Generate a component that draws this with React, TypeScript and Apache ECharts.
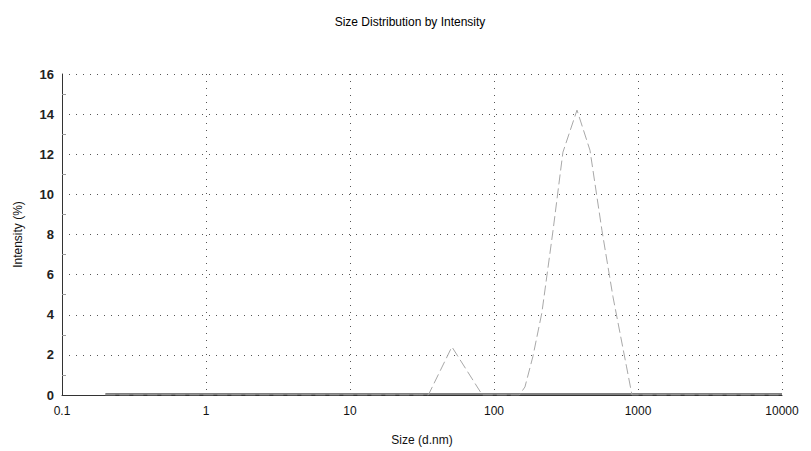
import React, { useEffect, useRef } from "react";
import * as echarts from "echarts";

const titleText = "Size Distribution by Intensity";
const xAxisName = "Size (d.nm)";
const yAxisName = "Intensity (%)";
const sizes = [0.2, 1, 10, 30, 35, 51, 83, 100, 150, 164, 186, 215, 257, 301, 377, 464, 562, 670, 833, 908, 1000, 10000];
const intensities = [0, 0, 0, 0, 0, 2.4, 0, 0, 0, 0.4, 1.9, 4.1, 8.2, 12.1, 14.2, 12.2, 8.2, 4.9, 1.4, 0, 0, 0];
const yTicks = [0, 2, 4, 6, 8, 10, 12, 14, 16];

export default function App() {
  const ref = useRef<HTMLDivElement>(null);
  useEffect(() => {
    if (!ref.current) return;
    const chart = echarts.init(ref.current, null, { renderer: "svg" });
    const font = "Liberation Sans, Arial, sans-serif";
    chart.setOption({
      animation: false,
      backgroundColor: "#ffffff",
      title: {
        text: titleText,
        left: 405,
        textAlign: "center",
        top: 11,
        textStyle: { fontFamily: font, fontSize: 12, fontWeight: 500, color: "#000" },
      },
      grid: { left: 62, right: 29, top: 74, bottom: 56 },
      xAxis: {
        type: "log",
        logBase: 10,
        min: 0.1,
        max: 10000,
        name: xAxisName,
        nameLocation: "middle",
        nameGap: 39,
        nameTextStyle: { fontFamily: font, fontSize: 12, color: "#111" },
        axisLine: { lineStyle: { color: "#333", width: 1 } },
        axisTick: { show: false },
        axisLabel: {
          fontFamily: font,
          fontSize: 12,
          color: "#111",
          margin: 10,
          formatter: (v: number) => (v < 1 ? "0.1" : String(Math.round(v))),
        },
        splitLine: { show: true, lineStyle: { type: [1, 6], color: "#555", width: 1 } },
      },
      yAxis: {
        type: "value",
        min: 0,
        max: 16,
        interval: 2,
        name: yAxisName,
        nameLocation: "middle",
        nameGap: 38,
        nameRotate: 90,
        nameTextStyle: { fontFamily: font, fontSize: 12, color: "#111" },
        axisLine: { show: true, lineStyle: { color: "#333", width: 1 } },
        axisTick: { show: false, inside: true },
        minorTick: { show: true, splitNumber: 2, length: 4, lineStyle: { color: "#999" } },
        axisLabel: {
          fontFamily: font,
          fontSize: 13,
          fontWeight: "bold",
          color: "#222",
          margin: 8,
          formatter: (v: number) => (yTicks.includes(v) ? String(v) : ""),
        },
        splitLine: { show: true, lineStyle: { type: [1, 6], color: "#555", width: 1 } },
      },
      series: [
        {
          type: "line",
          data: sizes.map((s, i) => [s, intensities[i]]),
          showSymbol: false,
          lineStyle: { color: "#a8a8a8", width: 1, type: [10, 4] },
          z: 3,
        },
        {
          type: "line",
          data: sizes.map((s) => [s, 0.05]),
          showSymbol: false,
          lineStyle: { color: "#555", width: 1.5 },
          z: 2,
        },
      ],
    });
    return () => chart.dispose();
  }, []);
  return <div ref={ref} style={{ width: 811, height: 451, position: "absolute", left: 0, top: 0 }} />;
}
